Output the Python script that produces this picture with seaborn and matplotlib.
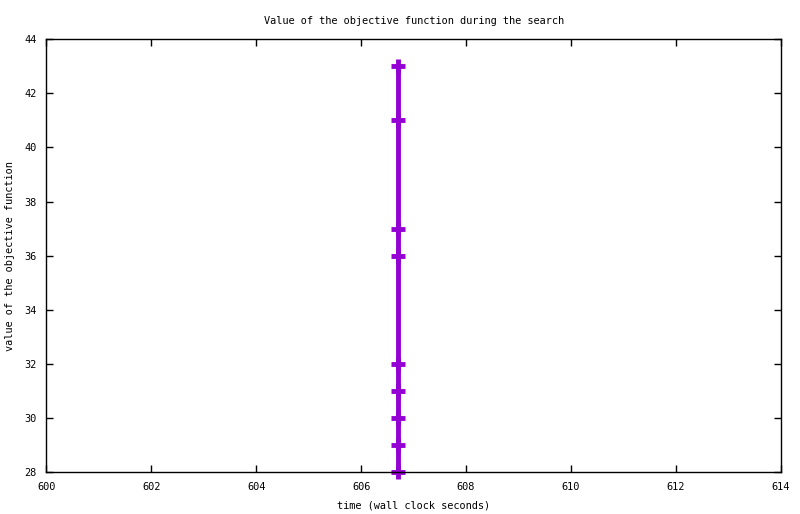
import matplotlib
matplotlib.use("Agg")
import matplotlib.pyplot as plt
import seaborn as sns
import pandas as pd

time_s = [606.7, 606.7, 606.7, 606.7, 606.7, 606.7, 606.7, 606.7, 606.7]
objective = [43, 41, 37, 36, 32, 31, 30, 29, 28]
x_ticks = [600, 602, 604, 606, 608, 610, 612, 614]
y_ticks = [28, 30, 32, 34, 36, 38, 40, 42, 44]

sns.set_style("ticks")
plt.rcParams['font.family'] = ['DejaVu Sans Mono']
plt.rcParams['font.size'] = 7.4
plt.rcParams['text.color'] = 'black'
plt.rcParams['axes.labelcolor'] = 'black'

df = pd.DataFrame({"t": time_s, "v": objective})

fig = plt.figure(figsize=(8, 5.14), dpi=100)
ax = fig.add_axes([0.058, 0.0817, 0.918, 0.842])
sns.lineplot(data=df, x="t", y="v", ax=ax, estimator=None, sort=False,
             color="#9400D3", linewidth=3.5, marker="+", markersize=10,
             markeredgewidth=3.5, markeredgecolor="#9400D3", clip_on=False)
ax.set_xlim(600, 614)
ax.set_ylim(28, 44)
ax.set_xticks(x_ticks)
ax.set_yticks(y_ticks)
for s in ax.spines.values():
    s.set_visible(True)
    s.set_color("black")
    s.set_linewidth(1)
ax.tick_params(direction="in", top=True, right=True, length=5, width=1,
               labelsize=7.4, colors="black", pad=7)
ax.set_xlabel("time (wall clock seconds)", fontsize=7.4, labelpad=6, color="black")
ax.set_ylabel("value of the objective function", fontsize=7.4, labelpad=7, color="black")
ax.set_title("Value of the objective function during the search", fontsize=7.4, pad=11, color="black")
fig.savefig("out.png", dpi=100)
